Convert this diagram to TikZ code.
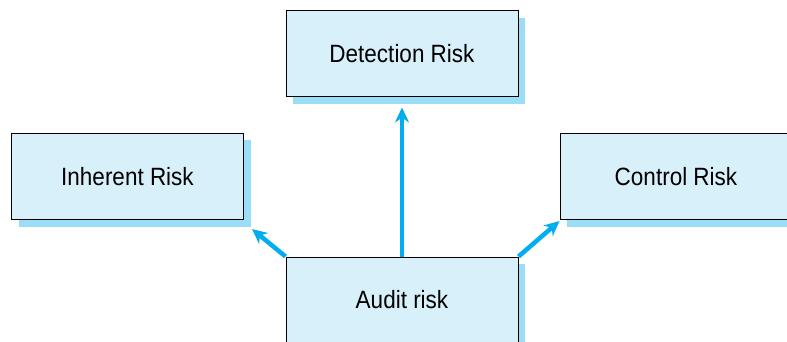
\documentclass[tikz,border=0pt]{standalone}
\usepackage{fontspec}
\setmainfont{Liberation Sans}[FakeStretch=0.9]
\usetikzlibrary{arrows.meta,shadows}

\definecolor{boxfill}{HTML}{D8F0FA}
\definecolor{boxshade}{HTML}{9ADDF6}
\definecolor{arrowblue}{HTML}{00AEEF}

\tikzset{
  riskbox/.style={draw=black, line width=1pt, fill=boxfill,
    minimum width=232pt, minimum height=86pt, inner sep=0pt,
    font=\fontsize{25}{29}\selectfont,
    general shadow={fill=boxshade, shadow xshift=7pt, shadow yshift=-7pt}},
  riskarrow/.style={arrowblue, line width=4.5pt,
    -{Stealth[length=15pt,width=14pt]}}
}

\begin{document}
\begin{tikzpicture}[x=1pt, y=-1pt]

  \useasboundingbox (0,0) rectangle (787,342);

  \node[riskbox] (det) at (402, 54) {Detection Risk};
  \node[riskbox] (inh) at (127.5, 176.5) {Inherent Risk};
  \node[riskbox] (con) at (676, 176.5) {Control Risk};
  \node[riskbox] (aud) at (402, 300) {Audit risk};

  \draw[riskarrow] (aud.north) -- ([yshift=-10pt]det.south);
  \draw[riskarrow] (aud.north west) -- ([xshift=8pt,yshift=-9pt]inh.south east);
  \draw[riskarrow] (aud.north east) -- ([yshift=-1pt]con.south west);

\end{tikzpicture}
\end{document}
